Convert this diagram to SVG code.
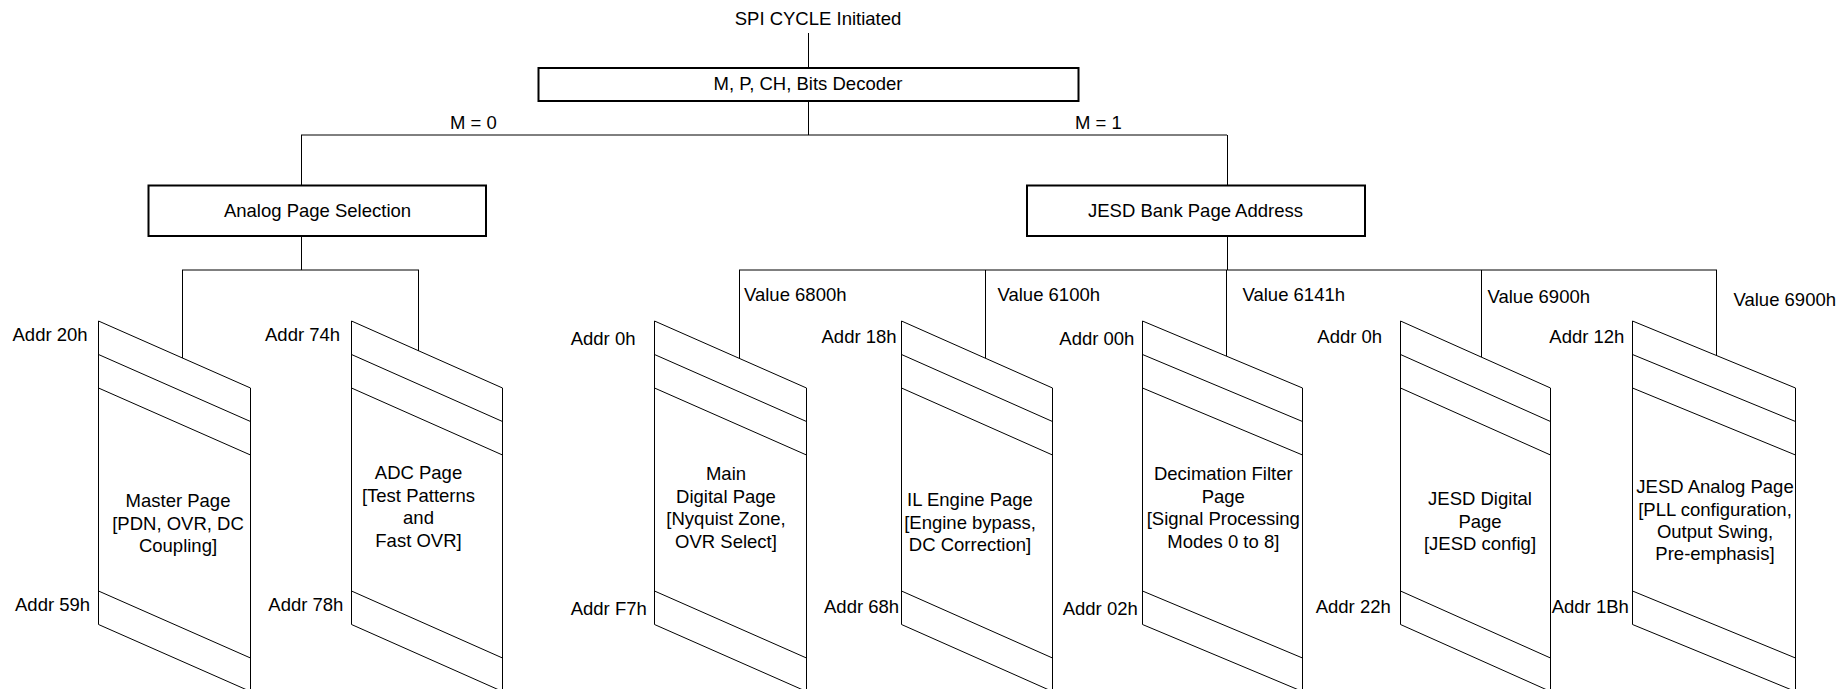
<svg xmlns="http://www.w3.org/2000/svg" width="1839" height="689" viewBox="0 0 1839 689">
<style>
text{font-family:"Liberation Sans",Arial,sans-serif;font-size:18.5px;fill:#000}
.c{text-anchor:middle}
.box{fill:#fff;stroke:#000;stroke-width:2}
.ln{fill:none;stroke:#000;stroke-width:1}
.pg{fill:none;stroke:#000;stroke-width:1}
</style>
<rect width="1839" height="689" fill="#fff"/>
<g id="connectors" class="ln">
<path d="M808.5 33V68M808.5 101V135"/>
<path d="M301 135H1227"/>
<path d="M301.5 135V185M1227.5 135V185"/>
<path d="M301.5 236V270M182 270H419"/>
<path d="M182.5 270V358M418.5 270V351"/>
<path d="M1227.5 236V270M739 270H1717"/>
<path d="M739.5 270V358M985.5 270V358M1226.5 270V356M1481.5 270V357M1716.5 270V355"/>
</g>
<g id="start"><text class="c" x="818" y="25">SPI CYCLE Initiated</text></g>
<g id="decoder"><rect class="box" x="538.5" y="68" width="540" height="33"/><text class="c" x="808" y="90">M, P, CH, Bits Decoder</text></g>
<g id="labels-m"><text x="450" y="129">M = 0</text><text x="1075" y="129">M = 1</text></g>
<g id="analog-sel"><rect class="box" x="148.5" y="185.5" width="337.5" height="50.5"/><text class="c" x="317.5" y="216.5">Analog Page Selection</text></g>
<g id="jesd-bank"><rect class="box" x="1027" y="185.5" width="338" height="50.5"/><text class="c" x="1195.5" y="216.5">JESD Bank Page Address</text></g>
<g id="values">
<text x="744" y="300.5">Value 6800h</text>
<text x="997.5" y="300.5">Value 6100h</text>
<text x="1242.5" y="300.5">Value 6141h</text>
<text x="1487.5" y="303">Value 6900h</text>
<text x="1733.5" y="306">Value 6900h</text>
</g>
<g id="master-page">
<path class="pg" d="M98.5 321V624.5M250.5 388V692M98.5 321L250.5 388M98.5 354.5L250.5 421.5M98.5 388L250.5 455M98.5 591L250.5 658M98.5 624.5L250.5 691.5"/>
<text x="12.5" y="340.7">Addr 20h</text><text x="15" y="610.7">Addr 59h</text>
<text class="c" x="178" y="507">Master Page</text><text class="c" x="178" y="529.5">[PDN, OVR, DC</text><text class="c" x="178" y="552">Coupling]</text>
</g>
<g id="adc-page">
<path class="pg" d="M351.5 321V624.5M502.5 388V692M351.5 321L502.5 388M351.5 354.5L502.5 421.5M351.5 388L502.5 455M351.5 591L502.5 658M351.5 624.5L502.5 691.5"/>
<text x="265" y="340.7">Addr 74h</text><text x="268.3" y="610.7">Addr 78h</text>
<text class="c" x="418.5" y="479">ADC Page</text><text class="c" x="418.5" y="501.7">[Test Patterns</text><text class="c" x="418.5" y="524">and</text><text class="c" x="418.5" y="546.7">Fast OVR]</text>
</g>
<g id="main-digital-page">
<path class="pg" d="M654.5 321V624.5M806.5 388V692M654.5 321L806.5 388M654.5 354.5L806.5 421.5M654.5 388L806.5 455M654.5 591L806.5 658M654.5 624.5L806.5 691.5"/>
<text x="570.7" y="345">Addr 0h</text><text x="570.7" y="615">Addr F7h</text>
<text class="c" x="726" y="480">Main</text><text class="c" x="726" y="502.5">Digital Page</text><text class="c" x="726" y="525">[Nyquist Zone,</text><text class="c" x="726" y="547.5">OVR Select]</text>
</g>
<g id="il-engine-page">
<path class="pg" d="M901.5 321V624.5M1052.5 388V692M901.5 321L1052.5 388M901.5 354.5L1052.5 421.5M901.5 388L1052.5 455M901.5 591L1052.5 658M901.5 624.5L1052.5 691.5"/>
<text x="821.5" y="343">Addr 18h</text><text x="824" y="612.7">Addr 68h</text>
<text class="c" x="970" y="506">IL Engine Page</text><text class="c" x="970" y="528.5">[Engine bypass,</text><text class="c" x="970" y="551">DC Correction]</text>
</g>
<g id="decimation-page">
<path class="pg" d="M1142.5 321V624.5M1302.5 388V692M1142.5 321L1302.5 388M1142.5 354.5L1302.5 421.5M1142.5 388L1302.5 455M1142.5 591L1302.5 658M1142.5 624.5L1302.5 691.5"/>
<text x="1059.3" y="345">Addr 00h</text><text x="1062.7" y="615">Addr 02h</text>
<text class="c" x="1223.3" y="480">Decimation Filter</text><text class="c" x="1223.3" y="502.5">Page</text><text class="c" x="1223.3" y="525">[Signal Processing</text><text class="c" x="1223.3" y="547.5">Modes 0 to 8]</text>
</g>
<g id="jesd-digital-page">
<path class="pg" d="M1400.5 321V624.5M1550.5 388V692M1400.5 321L1550.5 388M1400.5 354.5L1550.5 421.5M1400.5 388L1550.5 455M1400.5 591L1550.5 658M1400.5 624.5L1550.5 691.5"/>
<text x="1317.3" y="343">Addr 0h</text><text x="1315.7" y="612.7">Addr 22h</text>
<text class="c" x="1480" y="505">JESD Digital</text><text class="c" x="1480" y="527.5">Page</text><text class="c" x="1480" y="550">[JESD config]</text>
</g>
<g id="jesd-analog-page">
<path class="pg" d="M1632.5 321V624.5M1795.5 388V692M1632.5 321L1795.5 388M1632.5 354.5L1795.5 421.5M1632.5 388L1795.5 455M1632.5 591L1795.5 658M1632.5 624.5L1795.5 691.5"/>
<text x="1549.3" y="342.5">Addr 12h</text><text x="1551.7" y="612.7">Addr 1Bh</text>
<text class="c" x="1715" y="493.3">JESD Analog Page</text><text class="c" x="1715" y="515.5">[PLL configuration,</text><text class="c" x="1715" y="537.7">Output Swing,</text><text class="c" x="1715" y="560">Pre-emphasis]</text>
</g>
</svg>
